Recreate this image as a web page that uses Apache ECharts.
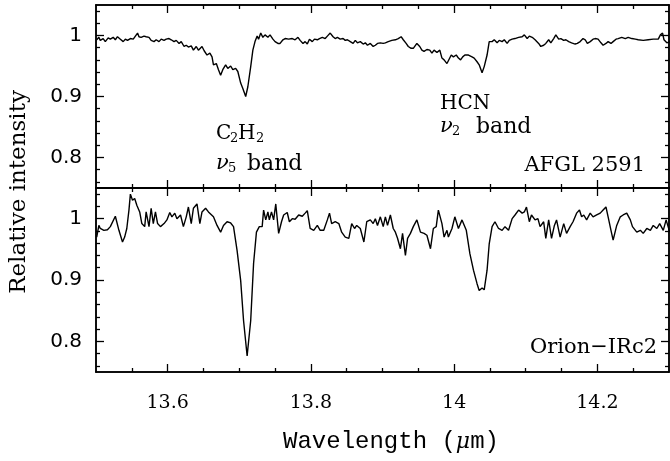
<!DOCTYPE html>
<html><head><meta charset="utf-8">
<script src="https://cdn.jsdelivr.net/npm/echarts@6/dist/echarts.min.js"></script>
<style>html,body{margin:0;padding:0;background:#fff}#c{width:670px;height:461px}</style>
</head><body><div id="c"></div>
<script>
// AFGL 2591 (top panel)
const lambdaTop = [
13.501,13.504,13.506,13.510,13.513,13.517,13.520,13.524,13.527,13.530,
13.534,13.538,13.541,13.544,13.548,13.552,13.555,13.558,13.560,13.563,
13.567,13.570,13.574,13.577,13.581,13.584,13.588,13.591,13.595,13.598,
13.602,13.605,13.609,13.612,13.616,13.619,13.623,13.626,13.629,13.633,
13.636,13.640,13.643,13.648,13.651,13.655,13.659,13.662,13.664,13.668,
13.671,13.674,13.677,13.681,13.684,13.688,13.691,13.695,13.698,13.702,
13.705,13.709,13.712,13.716,13.719,13.722,13.725,13.727,13.730,13.733,
13.736,13.740,13.743,13.747,13.750,13.754,13.757,13.761,13.764,13.769,
13.774,13.778,13.782,13.785,13.789,13.792,13.795,13.798,13.802,13.805,
13.809,13.812,13.816,13.820,13.823,13.827,13.831,13.834,13.837,13.841,
13.845,13.848,13.851,13.855,13.859,13.862,13.865,13.869,13.873,13.876,
13.879,13.883,13.887,13.890,13.893,13.897,13.901,13.904,13.908,13.913,
13.918,13.922,13.926,13.929,13.933,13.936,13.940,13.943,13.948,13.952,
13.955,13.958,13.962,13.966,13.969,13.972,13.976,13.980,
13.983,13.986,13.990,
13.996,13.999,14.003,14.006,14.009,14.012,14.015,14.020,14.025,
14.028,14.032,14.035,14.039,14.042,14.046,14.049,14.053,14.056,14.060,
14.063,14.067,14.070,14.074,14.077,14.081,14.085,14.090,14.095,14.098,
14.102,14.105,14.109,14.113,14.118,14.121,14.125,14.128,14.132,14.135,
14.139,14.142,14.146,14.149,14.153,14.156,14.160,14.164,14.169,14.172,
14.176,14.180,14.183,14.186,14.190,14.194,14.197,14.201,14.205,14.208,
14.212,14.215,14.219,14.222,14.226,14.229,14.234,14.239,14.243,14.248,
14.253,14.257,14.264,14.271,14.278,14.285,14.288,14.291,14.293,14.297,14.301
];
const intensityTop = [
0.993,0.997,0.992,0.995,0.990,0.996,0.994,0.997,0.993,0.998,
0.994,0.990,0.994,0.992,0.995,0.994,0.999,1.004,0.998,0.997,
0.999,0.998,0.997,0.992,0.990,0.993,0.990,0.994,0.992,0.994,
0.995,0.993,0.990,0.992,0.987,0.990,0.982,0.984,0.981,0.983,
0.976,0.982,0.976,0.982,0.975,0.968,0.971,0.965,0.952,0.954,
0.944,0.935,0.944,0.952,0.946,0.950,0.944,0.946,0.941,0.922,
0.913,0.900,0.916,0.949,0.976,0.990,0.999,0.994,1.004,0.997,
1.001,0.997,1.001,0.994,0.990,0.987,0.987,0.993,0.995,0.994,
0.995,0.993,0.997,0.992,0.987,0.990,0.986,0.994,0.990,0.994,
0.993,0.995,0.997,0.995,0.999,1.004,0.998,0.995,0.997,0.994,
0.995,0.992,0.993,0.990,0.987,0.992,0.988,0.990,0.986,0.988,
0.984,0.987,0.982,0.984,0.987,0.988,0.987,0.988,0.990,0.992,
0.993,0.995,0.998,0.993,0.987,0.982,0.979,0.979,0.987,0.982,
0.976,0.974,0.977,0.976,0.971,0.976,0.972,0.976,
0.963,0.960,0.954,
0.968,0.965,0.968,0.963,0.960,0.965,0.968,0.968,0.965,
0.963,0.957,0.952,0.939,0.949,0.968,0.990,0.990,0.993,0.988,
0.992,0.990,0.993,0.987,0.992,0.994,0.995,0.997,0.998,1.001,
0.995,0.999,0.997,0.993,0.987,0.982,0.984,0.987,0.993,0.988,
0.995,1.001,0.994,0.995,0.992,0.993,0.990,0.988,0.986,0.987,
0.990,0.995,0.993,0.987,0.990,0.994,0.995,0.994,0.988,0.984,
0.987,0.990,0.987,0.990,0.994,0.995,0.997,0.995,0.997,0.995,
0.994,0.993,0.992,0.993,0.994,0.994,1.001,1.004,0.993,0.988,0.990
];
// Orion-IRc2 (bottom panel)
const lambdaBottom = [
13.501,13.504,13.506,13.511,13.516,13.520,13.527,13.532,13.537,13.540,
13.543,13.546,13.548,13.551,13.554,13.557,13.561,13.564,13.568,13.570,
13.574,13.577,13.580,13.583,13.586,13.590,13.595,13.599,13.603,13.606,
13.610,13.613,13.618,13.622,13.626,13.629,13.633,13.636,13.641,13.645,
13.648,13.653,13.657,13.664,13.669,13.674,13.678,13.683,13.688,13.692,
13.697,13.702,13.706,13.711,13.716,13.720,13.724,13.728,13.732,13.734,
13.737,13.740,13.742,13.745,13.748,13.751,13.755,13.759,13.762,13.767,
13.770,13.774,13.778,13.783,13.788,13.792,13.795,13.799,13.804,13.809,
13.813,13.818,13.823,13.826,13.829,13.834,13.839,13.843,13.848,13.853,
13.857,13.861,13.864,13.869,13.874,13.878,13.883,13.887,13.890,13.893,
13.897,13.901,13.904,13.907,13.911,13.915,13.918,13.921,13.925,13.928,
13.932,13.935,13.939,13.943,13.948,13.953,13.958,13.962,13.967,13.971,
13.975,13.978,13.983,13.986,13.990,13.992,13.997,14.001,14.006,14.011,
14.017,14.022,14.027,14.032,14.035,14.039,14.042,14.046,14.049,14.053,
14.057,14.062,14.067,14.071,14.076,14.081,14.085,14.090,14.095,14.098,
14.101,14.105,14.108,14.113,14.117,14.120,14.125,14.128,14.132,14.136,
14.140,14.143,14.148,14.153,14.157,14.162,14.166,14.171,14.175,14.178,
14.181,14.185,14.190,14.194,14.199,14.204,14.208,14.212,14.215,14.219,
14.222,14.227,14.232,14.236,14.241,14.246,14.249,14.255,14.260,14.264,
14.269,14.274,14.278,14.283,14.287,14.292,14.296,14.301
];
const intensityBottom = [
0.970,0.989,0.984,0.981,0.982,0.987,1.004,0.981,0.962,0.970,
0.984,1.014,1.040,1.030,1.033,1.022,1.011,0.992,0.987,1.011,
0.987,1.017,0.992,1.011,0.992,0.987,0.992,0.998,1.010,1.003,
1.009,1.000,1.006,0.987,1.003,1.019,0.992,1.017,1.024,0.992,
1.011,1.017,1.011,1.003,0.989,0.978,0.989,0.995,0.993,0.987,
0.948,0.899,0.834,0.776,0.834,0.927,0.978,0.987,0.987,1.014,
0.998,1.011,0.998,1.011,0.998,1.024,0.976,0.995,1.006,1.010,
0.995,1.000,0.999,1.006,1.004,1.009,1.013,0.984,0.981,0.989,
0.981,0.981,0.998,1.009,0.992,0.995,0.992,0.978,0.970,0.968,
0.992,0.984,0.989,0.984,0.962,0.995,0.998,0.992,1.000,0.989,
1.003,0.987,1.003,0.989,1.006,0.984,0.978,0.968,0.951,0.976,
0.940,0.968,0.976,0.987,0.998,0.978,0.976,0.973,0.951,0.984,
0.987,1.014,0.992,0.970,0.981,0.970,0.984,1.003,0.984,0.998,
0.981,0.943,0.916,0.894,0.883,0.887,0.884,0.916,0.959,0.987,
0.995,0.984,0.981,0.987,0.981,1.000,1.006,1.014,1.009,1.011,
1.019,0.995,1.006,0.998,1.000,0.987,0.995,0.968,0.998,0.968,
0.989,0.998,0.970,0.992,0.976,0.987,0.995,1.009,1.014,1.003,
1.006,0.998,1.009,1.003,1.006,1.009,1.014,1.019,1.003,0.981,
0.965,0.989,1.003,1.006,1.009,0.998,0.987,0.978,0.981,0.976,
0.984,0.981,0.989,0.984,0.992,0.981,0.998,0.978
];
const xRange = [13.5, 14.3];
const yRange = [0.75, 1.05];
const xMajorTicks = [13.6, 13.8, 14.0, 14.2];
const xMinorTicks = [13.55, 13.65, 13.7, 13.75, 13.85, 13.9, 13.95, 14.05, 14.1, 14.15, 14.25];
const yMajorTicks = [0.8, 0.9, 1.0];
const yMinorTicks = [0.76, 0.78, 0.82, 0.84, 0.86, 0.88, 0.92, 0.94, 0.96, 0.98, 1.02, 1.04];

const BLACK = '#000';
const SERIF = '"DejaVu Serif"';
const SANS = '"DejaVu Sans"';

function xAx(grid, pos, ticks, len, labels) {
  return {
    type: 'value', gridIndex: grid, position: pos, min: xRange[0], max: xRange[1],
    axisLine: { show: true, onZero: false, lineStyle: { color: BLACK, width: 1.5 } },
    axisTick: { show: true, inside: true, length: len, customValues: ticks, lineStyle: { color: BLACK, width: 1.3 } },
    axisLabel: labels ? { show: true, customValues: xMajorTicks, margin: 22, color: BLACK,
      fontFamily: SERIF, fontSize: 19 } : { show: false },
    splitLine: { show: false }, minorTick: { show: false }
  };
}
function yAx(grid, pos, ticks, len, labels) {
  return {
    type: 'value', gridIndex: grid, position: pos, min: yRange[0], max: yRange[1],
    axisLine: { show: true, onZero: false, lineStyle: { color: BLACK, width: 1.5 } },
    axisTick: { show: true, inside: true, length: len, customValues: ticks, lineStyle: { color: BLACK, width: 1.3 } },
    axisLabel: labels ? { show: true, customValues: yMajorTicks, margin: 14, color: BLACK,
      fontFamily: SANS, fontSize: 20 } : { show: false },
    splitLine: { show: false }, minorTick: { show: false }
  };
}
const xAxes = [], yAxes = [];
[0, 1].forEach(g => {
  xAxes.push(xAx(g, 'bottom', xMajorTicks, 8, g === 1));
  xAxes.push(xAx(g, 'bottom', xMinorTicks, 4, false));
  xAxes.push(xAx(g, 'top', xMajorTicks, 8, false));
  xAxes.push(xAx(g, 'top', xMinorTicks, 4, false));
  yAxes.push(yAx(g, 'left', yMajorTicks, 8, true));
  yAxes.push(yAx(g, 'left', yMinorTicks, 4, false));
  yAxes.push(yAx(g, 'right', yMajorTicks, 8, false));
  yAxes.push(yAx(g, 'right', yMinorTicks, 4, false));
});

function txt(x, y, text, size, opts) {
  opts = opts || {};
  return {
    type: 'text', x: x, y: y, rotation: opts.rot || 0, silent: true,
    style: {
      text: text, fill: BLACK,
      font: (opts.italic ? 'italic ' : '') + size + 'px ' + (opts.family || SERIF),
      textAlign: opts.align || 'left', align: opts.align || 'left',
      textVerticalAlign: 'middle', verticalAlign: 'middle'
    }
  };
}

const graphics = [
  txt(19, 192, 'Relative intensity', 23, { align: 'center', rot: Math.PI / 2 }),
  // C2H2 nu5 band
  txt(216, 134, 'C', 20), txt(230, 139, '2', 13), txt(238, 134, 'H', 20), txt(256, 139, '2', 13),
  txt(216, 164, 'ν', 21, { italic: true }), txt(228, 169, '5', 13), txt(247, 164, 'band', 22),
  // HCN nu2 band
  txt(440, 104, 'HCN', 20),
  txt(440, 127, 'ν', 21, { italic: true }), txt(452, 132, '2', 13), txt(476, 127, 'band', 22),
  txt(645, 166, 'AFGL 2591', 21, { align: 'right' }),
  txt(657, 348, 'Orion\u2212IRc2', 21, { align: 'right' }),
  {
    type: 'text', x: 391, y: 442, silent: true,
    style: {
      text: '{a|Wavelength (}{b|μ}{a|m)}', align: 'center', textAlign: 'center',
      verticalAlign: 'middle', textVerticalAlign: 'middle',
      rich: {
        a: { fontFamily: '"Liberation Mono"', fontSize: 24, fill: BLACK, color: BLACK },
        b: { fontFamily: SERIF, fontStyle: 'italic', fontSize: 22, fill: BLACK, color: BLACK }
      }
    }
  }
];

const chart = echarts.init(document.getElementById('c'), null, { renderer: 'canvas' });
chart.setOption({
  animation: false,
  backgroundColor: '#fff',
  grid: [
    { left: 96, top: 5, width: 573, height: 183 },
    { left: 96, top: 188, width: 573, height: 184 }
  ],
  xAxis: xAxes,
  yAxis: yAxes,
  series: [
    { type: 'line', xAxisIndex: 0, yAxisIndex: 0, showSymbol: false, silent: true,
      lineStyle: { color: BLACK, width: 1.4 },
      data: lambdaTop.map((l, i) => [l, intensityTop[i]]) },
    { type: 'line', xAxisIndex: 4, yAxisIndex: 4, showSymbol: false, silent: true,
      lineStyle: { color: BLACK, width: 1.4 },
      data: lambdaBottom.map((l, i) => [l, intensityBottom[i]]) }
  ],
  graphic: graphics
});
</script>
</body></html>
